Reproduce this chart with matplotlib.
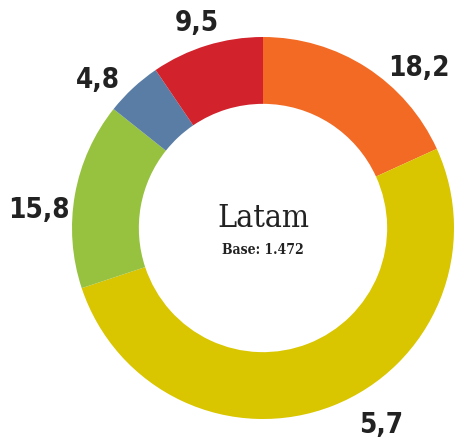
import matplotlib.pyplot as plt

# values (the big yellow slice is labelled "5,7")
values = [18.2, 51.7, 15.8, 4.8, 9.5]
labels = ["18,2", "5,7", "15,8", "4,8", "9,5"]
colors = ["#F26A23", "#D9C500", "#96C23F", "#5A7DA6", "#D2222C"]
title = "Latam"
subtitle = "Base: 1.472"

fig = plt.figure(figsize=(4.59, 4.41), dpi=100)
# ring centre at about (263, 228) px, outer radius about 191 px
ax = fig.add_axes([(263 - 191) / 459, (441 - 228 - 191) / 441, 382 / 459, 382 / 441])
ax.pie(values, colors=colors, startangle=90, counterclock=False,
       wedgeprops=dict(width=0.35, linewidth=0))
ax.set_xlim(-1, 1)
ax.set_ylim(-1, 1)
ax.set_aspect("equal")
ax.axis("off")

# label positions in axes units (relative to ring centre / radius)
label_pos = [(0.817, 0.838), (0.618, -1.031), (-1.173, 0.094), (-0.864, 0.775), (-0.346, 1.073)]
for lab, (x, y) in zip(labels, label_pos):
    ax.text(x, y, lab, ha="center", va="center", fontsize=20, fontweight="bold",
            family="DejaVu Sans", fontstretch="condensed", color="#222222")

ax.text(0, 0.052, title, ha="center", va="center", fontsize=23,
        family="DejaVu Serif", fontstretch="condensed", color="#222222")
ax.text(0, -0.115, subtitle, ha="center", va="center", fontsize=10,
        fontweight="bold", family="DejaVu Serif", fontstretch="condensed", color="#222222")

fig.savefig("out.png", dpi=100)
